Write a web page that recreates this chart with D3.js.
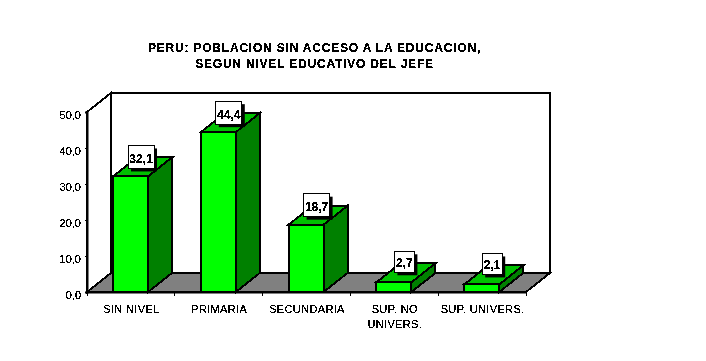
<!DOCTYPE html>
<html>
<head>
<meta charset="utf-8">
<script src="https://cdn.jsdelivr.net/npm/d3@7"></script>
<style>
  html, body { margin: 0; padding: 0; background: #fff; }
  svg { display: block; }
  text { font-family: "Liberation Sans", Arial, sans-serif; fill: #000; }
</style>
</head>
<body>
<svg id="chart" width="706" height="361"></svg>
<script>
var categories = ["SIN NIVEL", "PRIMARIA", "SECUNDARIA", "SUP. NO|UNIVERS.", "SUP. UNIVERS."];
var values = [32.1, 44.4, 18.7, 2.7, 2.1];
var yTicks = [0, 10, 20, 30, 40, 50];
var titleLines = ["PERU: POBLACION SIN ACCESO A LA EDUCACION,", "SEGUN NIVEL EDUCATIVO DEL JEFE"];

var svg = d3.select("#chart");
var dx = 24, dy = -19; // 3d depth of the box

var x = d3.scaleBand().domain(categories).range([87, 526]);
var y = d3.scaleLinear().domain([0, 50]).range([292, 112]);

// comma decimals like the original
var fmt = d3.formatLocale({ decimal: ",", thousands: ".", grouping: [3], currency: ["", ""] }).format(".1f");

// makes text hard edged, original has no antialiasing
var flt = svg.append("defs").append("filter").attr("id", "hard")
    .attr("x", "-5%").attr("y", "-5%").attr("width", "110%").attr("height", "110%");
flt.append("feComponentTransfer").append("feFuncA")
    .attr("type", "discrete").attr("tableValues", "0 1 1");

var poly = function(pts) { return pts.map(function(p) { return p.join(","); }).join(" "); };

function shape(g, pts, fill, sw) {
    return g.append("polygon").attr("points", poly(pts))
        .attr("fill", fill).attr("stroke", "#000").attr("stroke-width", sw || 2)
        .attr("stroke-linejoin", "miter");
}

// title
svg.append("g").selectAll("text").data(titleLines).join("text")
    .attr("x", 314.5).attr("y", function(d, i) { return 52 + i * 16; })
    .attr("text-anchor", "middle").attr("font-size", 12).attr("font-weight", "bold")
    .attr("letter-spacing", 0.8).attr("filter", "url(#hard)")
    .text(function(d) { return d; });

// walls and floor
var box = svg.append("g").attr("shape-rendering", "crispEdges");
var x0 = x.range()[0], x1 = x.range()[1], yb = y(0), yt = y(50);
shape(box, [[x0 + dx, yb + dy], [x1 + dx, yb + dy], [x1, yb], [x0, yb]], "#808080");
shape(box, [[x0, yt], [x0 + dx, yt + dy], [x0 + dx, yb + dy], [x0, yb]], "#fff");
shape(box, [[x0 + dx, yt + dy], [x1 + dx, yt + dy], [x1 + dx, yb + dy], [x0 + dx, yb + dy]], "#fff");
box.append("line").attr("x1", x1 + dx).attr("y1", yb + dy).attr("x2", x1).attr("y2", yb)
    .attr("stroke", "#000").attr("stroke-width", 1).attr("stroke-dasharray", "2,1");

// axes
var yAxis = svg.append("g").attr("transform", "translate(" + x0 + ",0)")
    .call(d3.axisLeft(y).tickValues(yTicks).tickFormat(fmt).tickSize(2).tickPadding(4));
var xAxis = svg.append("g").attr("transform", "translate(0," + yb + ")")
    .call(d3.axisBottom(x).tickSize(0).tickFormat(function() { return ""; }));
xAxis.selectAll(".tick").remove();
yAxis.select(".domain").attr("stroke-width", 2);
xAxis.select(".domain").attr("stroke-width", 2);
yAxis.selectAll("line").attr("stroke-width", 1).attr("shape-rendering", "crispEdges");
yAxis.selectAll("text").attr("font-size", 11).attr("font-family", "'Liberation Sans', Arial, sans-serif")
    .attr("y", 3).attr("filter", "url(#hard)");

// tick marks sit between categories on the x axis
svg.append("g").attr("shape-rendering", "crispEdges").selectAll("line")
    .data(categories.concat(["end"])).join("line")
    .attr("x1", function(d, i) { return x0 + i * x.step(); })
    .attr("x2", function(d, i) { return x0 + i * x.step(); })
    .attr("y1", yb).attr("y2", yb + 4).attr("stroke", "#000");

// category labels
var catLabels = svg.append("g").selectAll("text").data(categories).join("text")
    .attr("text-anchor", "middle").attr("font-size", 11).attr("filter", "url(#hard)")
    .attr("letter-spacing", 0.35);
catLabels.each(function(d) {
    var t = d3.select(this);
    d.split("|").forEach(function(s, i) {
        t.append("tspan").attr("x", x(d) + x.step() / 2 + 0.5)
            .attr("y", 313 + i * 15).text(s);
    });
});

// bars
var barOff = 26, barW = 35;
var bars = svg.append("g").attr("shape-rendering", "crispEdges").selectAll("g")
    .data(categories).join("g");
bars.each(function(d, i) {
    var g = d3.select(this);
    var l = x(d) + barOff, r = l + barW, top = y(values[i]), bot = y(0);
    shape(g, [[r, top], [r + dx, top + dy], [r + dx, bot + dy], [r, bot]], "#008000");
    shape(g, [[l, top], [l + dx, top + dy], [r + dx, top + dy], [r, top]], "#00c000");
    shape(g, [[l, top], [r, top], [r, bot], [l, bot]], "#00ff00");
});

// value labels with shadow
var labels = svg.append("g").selectAll("g").data(values).join("g");
labels.each(function(v, i) {
    var g = d3.select(this);
    var s = fmt(v);
    var w = v < 10 ? 20 : 26, h = v < 10 ? 21 : 23;
    var cx = x(categories[i]) + barOff + barW / 2 + 10.5;
    var top = y(v) - 31;
    g.append("rect").attr("x", cx - w / 2 + 3).attr("y", top + 3).attr("width", w).attr("height", h).attr("fill", "#000");
    g.append("rect").attr("x", cx - w / 2).attr("y", top).attr("width", w).attr("height", h)
        .attr("fill", "#fff").attr("stroke", "#000").attr("stroke-width", 1).attr("shape-rendering", "crispEdges");
    g.append("text").attr("x", cx).attr("y", top + h - 5.5).attr("text-anchor", "middle")
        .attr("font-size", 12).attr("font-weight", "bold").attr("filter", "url(#hard)").text(s);
});
</script>
</body>
</html>
